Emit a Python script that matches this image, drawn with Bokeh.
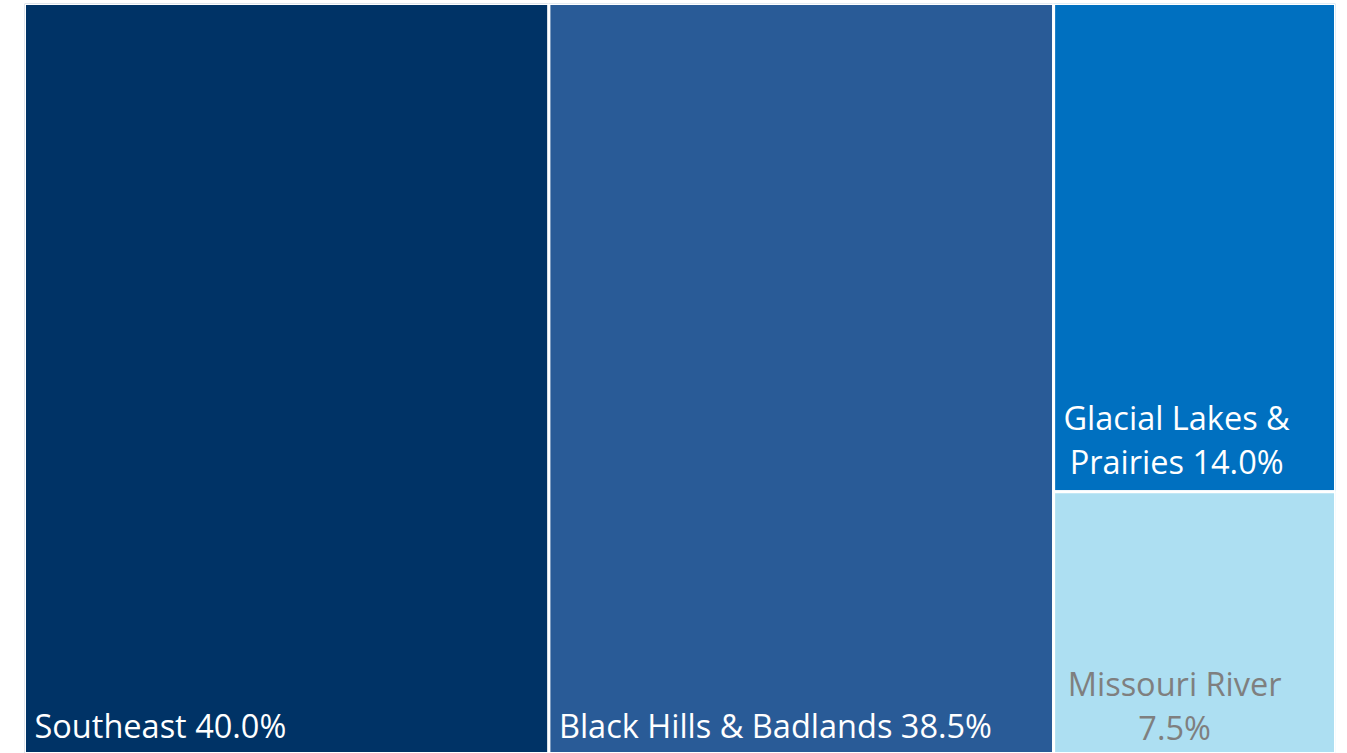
from bokeh.plotting import figure
from bokeh.models import ColumnDataSource, Range1d
from bokeh.core.properties import value
from bokeh.embed import file_html
from bokeh.resources import INLINE

# Data
regions = ["Southeast", "Black Hills & Badlands", "Glacial Lakes & Prairies", "Missouri River"]
shares = [40.0, 38.5, 14.0, 7.5]
labels = ["Southeast 40.0%", "Black Hills & Badlands 38.5%", "Glacial Lakes &\nPrairies 14.0%", "Missouri River\n7.5%"]
colors = ["#003366", "#295B97", "#0070C0", "#ADDFF2"]
text_colors = ["#FFFFFF", "#FFFFFF", "#FFFFFF", "#7F7F7F"]

# Layout: first two regions as full-height columns, the last two stacked in a final column
total = sum(shares)
left, right, bottom, top = [], [], [], []
x = 0.0
for v in shares[:2]:
    w = v / total * 100
    left.append(x); right.append(x + w); bottom.append(0.0); top.append(1.0)
    x += w
rest = sum(shares[2:])
y = 1.0
for v in shares[2:]:
    h = v / rest
    left.append(x); right.append(100.0); top.append(y); bottom.append(y - h)
    y -= h

p = figure(width=1347, height=753, output_backend="svg", toolbar_location=None,
           x_range=Range1d(0, 100), y_range=Range1d(0, 1),
           min_border_left=24, min_border_right=12, min_border_top=3, min_border_bottom=0)
p.axis.visible = False
p.grid.visible = False
p.outline_line_color = None
p.background_fill_color = "white"

src = ColumnDataSource(dict(left=left, right=right, bottom=bottom, top=top, color=colors))
p.quad(left="left", right="right", bottom="bottom", top="top", source=src,
       fill_color="color", line_color="white", line_width=3)

# Labels: one row per text line
tx, ty, tt, tc, xo, yo, al = [], [], [], [], [], [], []
base_offsets = [-28, -28, -30, -26]
for i, lab in enumerate(labels):
    lines = lab.split("\n")
    n = len(lines)
    for j, ln in enumerate(lines):
        tx.append(left[i]); ty.append(bottom[i]); tt.append(ln); tc.append(text_colors[i])
        yo.append(base_offsets[i] - (n - 1 - j) * 44)
        if n > 1:
            xo.append(123 if i == 2 else 121); al.append("center")
        else:
            xo.append(10); al.append("left")

tsrc = ColumnDataSource(dict(x=tx, y=ty, text=tt, color=tc, xo=xo, yo=yo, align=al))
p.text(x="x", y="y", text="text", source=tsrc, text_color="color",
       x_offset="xo", y_offset="yo", text_align="align", text_baseline="alphabetic",
       text_font=value("Open Sans"), text_font_size="32.5px")

open("out.html", "w").write(file_html(p, INLINE))
